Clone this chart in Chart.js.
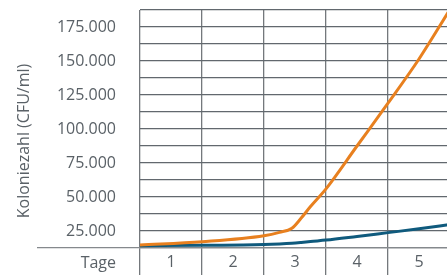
<!DOCTYPE html>
<html lang="de">
<head>
    <meta charset="UTF-8">
    <title>Koloniezahl</title>
    <script src="https://cdn.jsdelivr.net/npm/chart.js@4.4.0/dist/chart.umd.min.js"></script>
    <style>
        html, body { margin: 0; padding: 0; background: #fff; overflow: hidden; width: 447px; height: 275px; }
        #wrap { width: 450px; height: 275px; }
    </style>
</head>
<body>
<div id="wrap"><canvas id="chart" width="450" height="275"></canvas></div>
<script>
    // Data
    const categories = ['1', '2', '3', '4', '5'];
    const sampleDays = [0, 1, 2, 2.25, 2.45, 2.6, 2.75, 3, 3.5, 4, 4.5, 5];
    const orangeValues = [14700, 17100, 21500, 24000, 27000, 34500, 43000, 56000, 87500, 119000, 151500, 188000];
    const blueValues = [14200, 14500, 15100, 15500, 16000, 16600, 17300, 18300, 21000, 23800, 26600, 29700];
    const yMin = 12500, yMax = 187500, yStep = 12500;
    const yTitle = 'Koloniezahl (CFU/ml)';
    const xTitle = 'Tage';

    const textColor = '#5a6167';
    const gridColor = '#62686e';
    const font = { family: 'Open Sans', size: 16 };

    const toPoints = vals => vals.map((v, i) => ({ x: sampleDays[i], y: v }));

    // rotated y title and the "Tage" label
    const extraText = {
        id: 'extraText',
        afterDraw(chart) {
            const ctx = chart.ctx;
            ctx.save();
            ctx.fillStyle = textColor;
            ctx.font = '16px "Open Sans"';
            ctx.textAlign = 'center';
            ctx.textBaseline = 'middle';
            ctx.translate(24, 141);
            ctx.rotate(-Math.PI / 2);
            ctx.fillText(yTitle, 0, 0);
            ctx.restore();

            ctx.save();
            ctx.fillStyle = textColor;
            ctx.font = '16px "Open Sans"';
            ctx.textAlign = 'right';
            ctx.textBaseline = 'middle';
            ctx.fillText(xTitle, 116, 263);
            ctx.restore();
        }
    };

    new Chart(document.getElementById('chart'), {
        type: 'line',
        data: {
            datasets: [
                {
                    data: toPoints(orangeValues),
                    borderColor: '#e8801f',
                    borderWidth: 3,
                    pointRadius: 0,
                    cubicInterpolationMode: 'monotone',
                    xAxisID: 'x',
                    yAxisID: 'y'
                },
                {
                    data: toPoints(blueValues),
                    borderColor: '#0f5a7d',
                    borderWidth: 3,
                    pointRadius: 0,
                    cubicInterpolationMode: 'monotone',
                    xAxisID: 'x',
                    yAxisID: 'y'
                }
            ]
        },
        options: {
            responsive: false,
            animation: false,
            layout: { padding: { top: 10, right: 0, bottom: 0, left: 0 } },
            plugins: { legend: { display: false }, tooltip: { enabled: false } },
            scales: {
                x: { type: 'linear', min: 0, max: 5, display: false },
                xCat: {
                    type: 'category',
                    labels: categories,
                    position: 'bottom',
                    offset: true,
                    grid: {
                        offset: true,
                        color: '#74787c',
                        lineWidth: 1.3,
                        drawTicks: true,
                        tickLength: 27,
                        tickColor: '#74787c'
                    },
                    border: { display: true, color: '#85898d', width: 1.3 },
                    ticks: { color: textColor, font: font, padding: -22, maxRotation: 0 },
                    afterFit(scale) { scale.height = 27; }
                },
                y: {
                    type: 'linear',
                    min: yMin,
                    max: yMax,
                    grid: {
                        color: gridColor,
                        lineWidth: 1.3,
                        drawTicks: true,
                        tickLength: 103,
                        tickColor: c => (c.tick && c.tick.value === yMin) ? '#85898d' : 'rgba(0,0,0,0)'
                    },
                    border: { display: false },
                    ticks: {
                        stepSize: yStep,
                        autoSkip: false,
                        color: textColor,
                        font: font,
                        padding: -79,
                        callback: v => (v % 25000 === 0) ? v.toLocaleString('de-DE') : ''
                    },
                    afterFit(scale) { scale.width = 140; }
                }
            }
        },
        plugins: [extraText]
    });
</script>
</body>
</html>
